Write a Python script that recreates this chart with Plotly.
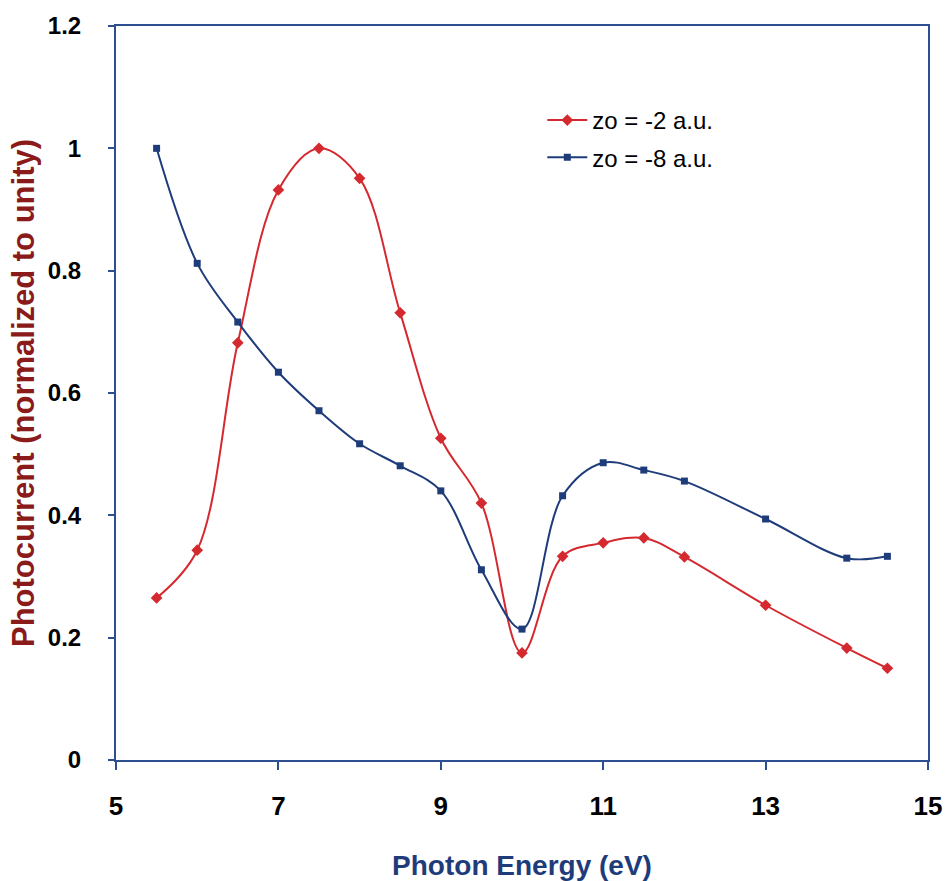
import plotly.graph_objects as go

# Photon energies (eV) and normalized photocurrent for the two source depths
energy = [5.5, 6.0, 6.5, 7.0, 7.5, 8.0, 8.5, 9.0, 9.5, 10.0, 10.5, 11.0, 11.5, 12.0, 13.0, 14.0, 14.5]
zo_minus2 = [0.265, 0.343, 0.682, 0.932, 1.0, 0.951, 0.731, 0.526, 0.42, 0.175, 0.333, 0.355, 0.363, 0.332, 0.253, 0.183, 0.150]
zo_minus8 = [1.0, 0.812, 0.716, 0.634, 0.571, 0.517, 0.481, 0.44, 0.311, 0.214, 0.432, 0.486, 0.474, 0.456, 0.394, 0.330, 0.333]

x_ticks = [5, 7, 9, 11, 13, 15]
y_ticks = [0, 0.2, 0.4, 0.6, 0.8, 1.0, 1.2]

RED = "#D42A2F"
BLUE = "#1F3C7A"
FRAME = "#2E4F8F"

fig = go.Figure()
fig.add_trace(go.Scatter(
    x=energy, y=zo_minus2, name="zo = -2 a.u.", legendgroup="a",
    mode="lines+markers", line=dict(color=RED, width=2, shape="spline", smoothing=1.0),
    marker=dict(symbol="diamond", size=9, color=RED),
))
fig.add_trace(go.Scatter(
    x=energy, y=zo_minus8, name="zo = -8 a.u.", legendgroup="b",
    mode="lines+markers", line=dict(color=BLUE, width=2, shape="spline", smoothing=1.0),
    marker=dict(symbol="square", size=7, color=BLUE),
))

tick_font_x = dict(family="Liberation Sans Narrow, Arial Narrow, sans-serif", size=26, color="black", weight="bold")
tick_font_y = dict(family="Liberation Sans Narrow, Arial Narrow, sans-serif", size=24, color="black", weight="bold")

fig.update_layout(
    width=947, height=881,
    margin=dict(l=116, r=19, t=26, b=121),
    paper_bgcolor="white", plot_bgcolor="white",
    showlegend=True,
    legend=dict(
        x=0.525, y=0.902, xanchor="left", yanchor="top",
        bgcolor="rgba(0,0,0,0)",
        font=dict(family="Liberation Sans, Arial, sans-serif", size=24, color="black"),
        tracegroupgap=3, itemwidth=40,
    ),
    xaxis=dict(
        range=[5, 15], tickvals=x_ticks, ticktext=[str(v) for v in x_ticks],
        showgrid=False, zeroline=False, automargin=False,
        showline=True, linecolor=FRAME, linewidth=2, mirror=True,
        ticks="outside", ticklen=8, tickcolor=FRAME, tickwidth=1.5,
        ticklabelstandoff=14,
        tickfont=tick_font_x,
        title=dict(text="Photon Energy (eV)", standoff=36,
                   font=dict(family="Liberation Sans, Arial, sans-serif", size=28, color=BLUE, weight="bold")),
    ),
    yaxis=dict(
        range=[0, 1.2], tickvals=y_ticks, ticktext=["0", "0.2", "0.4", "0.6", "0.8", "1", "1.2"],
        showgrid=False, zeroline=False, automargin=False,
        showline=True, linecolor=FRAME, linewidth=2, mirror=True,
        ticks="outside", ticklen=6, tickcolor=FRAME, tickwidth=1.5,
        ticklabelstandoff=22,
        tickfont=tick_font_y,
        title=dict(text="Photocurrent (normalized to unity)", standoff=4,
                   font=dict(family="Liberation Sans, Arial, sans-serif", size=31, color="#8B1A1A", weight="bold")),
    ),
)

fig.write_html("out.html")
